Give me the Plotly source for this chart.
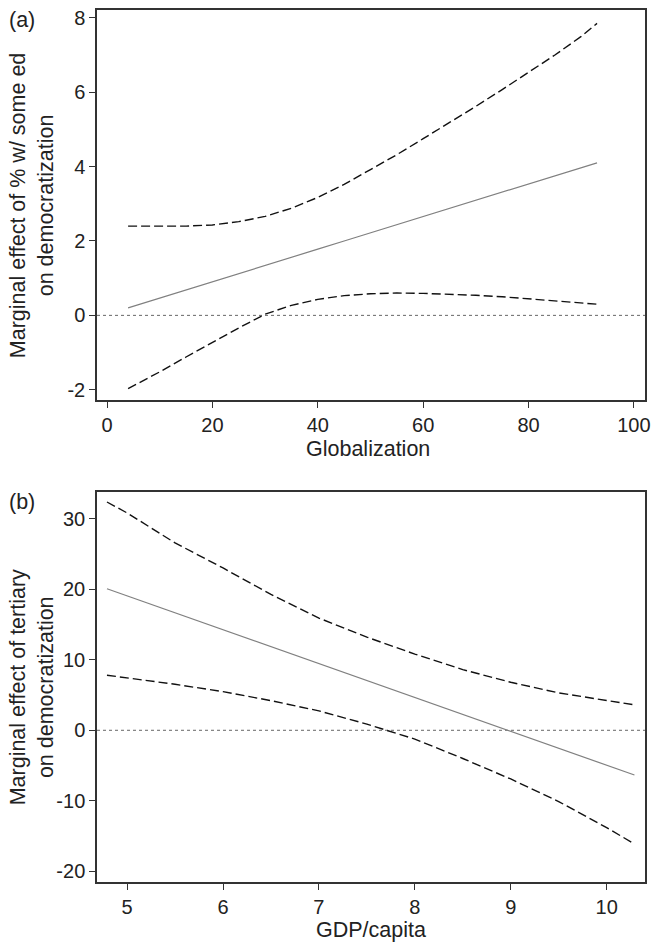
import plotly.graph_objects as go

# ---- Panel (a): Globalization ----
glob_x = [4, 10, 15, 20, 25, 30, 35, 40, 45, 50, 55, 60, 65, 70, 75, 80, 85, 90, 93]
glob_est = [0.20, 0.46, 0.68, 0.90, 1.12, 1.34, 1.56, 1.78, 2.00, 2.22, 2.43, 2.65,
            2.87, 3.09, 3.31, 3.53, 3.75, 3.97, 4.10]
glob_hi = [2.40, 2.39, 2.40, 2.43, 2.52, 2.66, 2.88, 3.17, 3.52, 3.92, 4.32, 4.75,
           5.18, 5.62, 6.07, 6.53, 7.00, 7.50, 7.85]
glob_lo = [-1.97, -1.52, -1.12, -0.72, -0.34, 0.03, 0.27, 0.43, 0.53, 0.58, 0.60, 0.59,
           0.57, 0.54, 0.50, 0.45, 0.40, 0.34, 0.30]

# ---- Panel (b): GDP/capita ----
gdp_x = [4.79, 5.0, 5.5, 6.0, 6.5, 7.0, 7.5, 8.0, 8.5, 9.0, 9.5, 10.0, 10.29]
gdp_est = [20.05, 19.04, 16.64, 14.24, 11.84, 9.44, 7.04, 4.65, 2.25, -0.15, -2.55, -4.95, -6.34]
gdp_hi = [32.35, 30.8, 26.55, 23.0, 19.25, 15.9, 13.2, 10.8, 8.6, 6.8, 5.3, 4.2, 3.6]
gdp_lo = [7.8, 7.45, 6.52, 5.47, 4.2, 2.75, 0.87, -1.25, -4.0, -6.9, -10.1, -13.8, -16.1]

top_xticks = [0, 20, 40, 60, 80, 100]
top_yticks = [-2, 0, 2, 4, 6, 8]
top_ylabels = ["-2", "0", "2", "4", "6", "8"]
bot_xticks = [5, 6, 7, 8, 9, 10]
bot_yticks = [-20, -10, 0, 10, 20, 30]
bot_ylabels = ["-20", "-10", "0", "10", "20", "30"]

FONT = "Liberation Sans, Arial, Helvetica, sans-serif"
INK = "#222222"
DASH = "9px,4px"
FS_TICK = 20
FS = 21.5

fig = go.Figure()

def add_panel(x, est, hi, lo, xa, ya):
    fig.add_trace(go.Scatter(x=x, y=hi, mode="lines", xaxis=xa, yaxis=ya,
                             line=dict(color="#111111", width=1.4, dash=DASH)))
    fig.add_trace(go.Scatter(x=x, y=lo, mode="lines", xaxis=xa, yaxis=ya,
                             line=dict(color="#111111", width=1.4, dash=DASH)))
    fig.add_trace(go.Scatter(x=x, y=est, mode="lines", xaxis=xa, yaxis=ya,
                             line=dict(color="#808080", width=1.2)))

add_panel(glob_x, glob_est, glob_hi, glob_lo, "x", "y")
add_panel(gdp_x, gdp_est, gdp_hi, gdp_lo, "x2", "y2")

# zero reference lines
for xr, yr in [("x domain", "y"), ("x2 domain", "y2")]:
    fig.add_shape(type="line", xref=xr, yref=yr, x0=0, x1=1, y0=0, y1=0,
                  line=dict(color="#666666", width=1, dash="dot"), layer="below")

axis_common = dict(showgrid=False, zeroline=False, showline=True, mirror=True,
                   linecolor="#333333", linewidth=1.5, ticks="outside", ticklen=6,
                   tickwidth=1.2, tickcolor="#333333", ticklabeloverflow="allow",
                   tickfont=dict(family=FONT, size=FS_TICK, color=INK))

top_dom = [0.553, 1.0]
bot_dom = [0.0, 0.4472]

fig.update_layout(
    width=658, height=942,
    margin=dict(l=97, r=9, t=7, b=60),
    paper_bgcolor="white", plot_bgcolor="white",
    showlegend=False,
    font=dict(family=FONT, size=FS, color=INK),
    xaxis=dict(axis_common, domain=[0, 1], anchor="y", range=[-1.9, 102.1],
               tickvals=top_xticks),
    yaxis=dict(axis_common, domain=top_dom, anchor="x", range=[-2.27, 8.21],
               tickvals=top_yticks, ticktext=top_ylabels),
    xaxis2=dict(axis_common, domain=[0, 1], anchor="y2", range=[4.686, 10.40],
                tickvals=bot_xticks),
    yaxis2=dict(axis_common, domain=bot_dom, anchor="x2", range=[-21.5, 33.76],
                tickvals=bot_yticks, ticktext=bot_ylabels),
)

def txt(text, x, y, xanchor="center", angle=0):
    return dict(text=text, xref="paper", yref="paper", x=x, y=y,
                xanchor=xanchor, yanchor="middle", textangle=angle, showarrow=False,
                font=dict(family=FONT, size=FS, color=INK))

ann = [
    txt("(a)", -0.165, 0.9886, "left"),
    txt("(b)", -0.165, 0.4354, "left"),
    txt("Marginal effect of % w/ some ed<br>on democratization", -0.118,
        (top_dom[0] + top_dom[1]) / 2, angle=-90),
    txt("Marginal effect of tertiary<br>on democratization", -0.118,
        (bot_dom[0] + bot_dom[1]) / 2, angle=-90),
    txt("Globalization", 0.495, 0.496),
    txt("GDP/capita", 0.50, -0.0555),
]
fig.update_layout(annotations=ann)

fig.write_html("out.html", config={"displayModeBar": False},
               post_script="document.body.style.margin='0';document.body.style.overflow='hidden';")
